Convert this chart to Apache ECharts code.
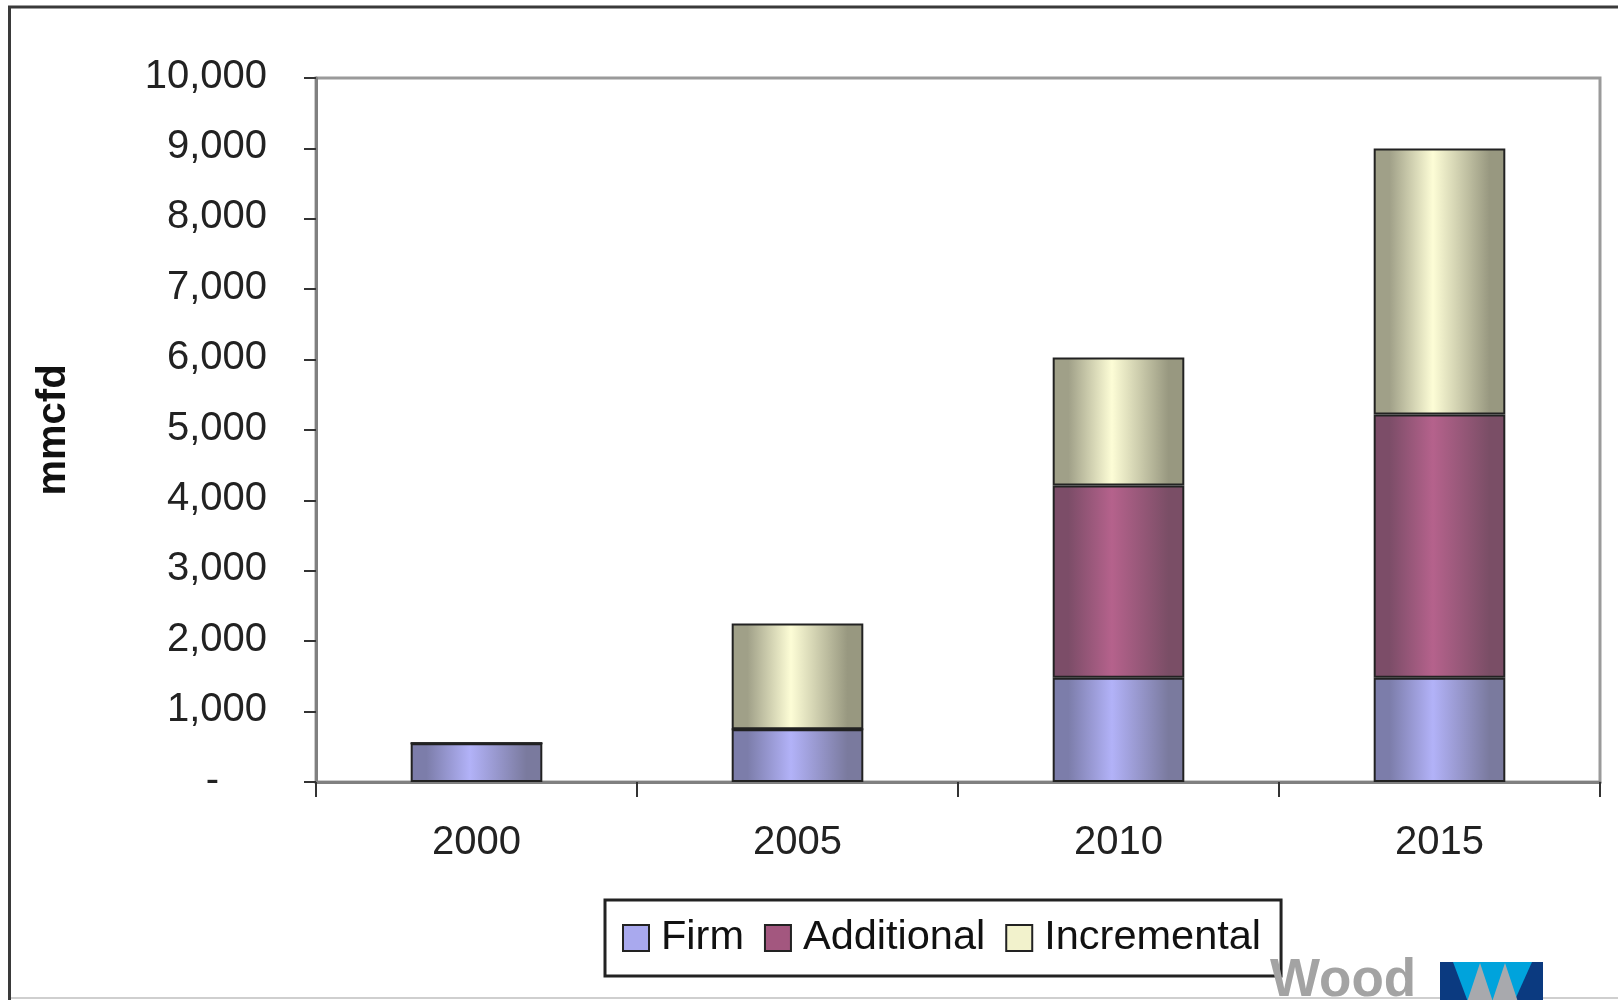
<!DOCTYPE html>
<html>
<head>
<meta charset="utf-8">
<script src="https://cdn.jsdelivr.net/npm/echarts@6/dist/echarts.min.js"></script>
<style>
html,body{margin:0;padding:0;background:#fff;}
#chart{width:1618px;height:1000px;}
</style>
</head>
<body>
<div id="chart"></div>
<script>
const categories = ['2000', '2005', '2010', '2015'];
const seriesNames = ['Firm', 'Additional', 'Incremental'];
const firm = [550, 750, 1480, 1480];
const additional = [0, 0, 2730, 3740];
const incremental = [0, 1500, 1820, 3780];
const yTickLabels = ['-', '1,000', '2,000', '3,000', '4,000', '5,000', '6,000', '7,000', '8,000', '9,000', '10,000'];
const yTitle = 'mmcfd';
const logoText = 'Wood';

const FONT = '"Liberation Sans", Arial, sans-serif';

function grad(dark, light, dark2) {
  return new echarts.graphic.LinearGradient(0, 0, 1, 0, [
    { offset: 0, color: dark },
    { offset: 0.12, color: dark },
    { offset: 0.45, color: light },
    { offset: 0.88, color: dark2 },
    { offset: 1, color: dark2 }
  ]);
}

const styles = [
  { fill: grad('#7c7daa', '#b2b2f8', '#7a7a9e'), legend: '#a9a9ee' },
  { fill: grad('#7c4d68', '#b5628c', '#7a4e66'), legend: '#a3577f' },
  { fill: grad('#a0a088', '#fdfdd6', '#989880'), legend: '#f2f2cc' }
];
const values = [firm, additional, incremental];

const chart = echarts.init(document.getElementById('chart'), null, { renderer: 'canvas' });

const option = {
  backgroundColor: '#ffffff',
  animation: false,
  grid: {
    left: 316, right: 18, top: 78, bottom: 218,
    show: true, borderColor: '#9a9a9a', borderWidth: 3, backgroundColor: 'transparent'
  },
  legend: {
    left: 605, top: 900,
    padding: [17, 20, 17, 17],
    borderColor: '#222', borderWidth: 3,
    itemWidth: 26, itemHeight: 26, itemGap: 20,
    icon: 'rect',
    textStyle: { fontFamily: FONT, fontSize: 41.5, color: '#111', lineHeight: 40, padding: [0, 0, 0, 7] },
    data: seriesNames.map((n, i) => ({
      name: n,
      itemStyle: { color: styles[i].legend, borderColor: '#222', borderWidth: 2 }
    }))
  },
  xAxis: {
    type: 'category',
    data: categories,
    axisLine: { lineStyle: { color: '#808080', width: 3 } },
    axisTick: { show: true, length: 15, lineStyle: { color: '#333', width: 2 } },
    axisLabel: { fontFamily: FONT, fontSize: 40, color: '#222', margin: 41 },
    splitLine: { show: false }
  },
  yAxis: {
    type: 'value',
    min: 0, max: 10000, interval: 1000,
    name: yTitle,
    nameLocation: 'middle',
    nameGap: 242,
    nameRotate: 90,
    nameTextStyle: { fontFamily: FONT, fontSize: 40, fontWeight: 'bold', color: '#111' },
    axisLine: { show: true, lineStyle: { color: '#808080', width: 3 } },
    axisTick: { show: true, length: 12, lineStyle: { color: '#333', width: 2 } },
    axisLabel: {
      fontFamily: FONT, fontSize: 40, color: '#222', margin: 49,
      padding: [0, 0, 3, 0],
      formatter: function (v) {
        const i = Math.round(v / 1000);
        return i === 0 ? '{z|' + yTickLabels[0] + '}' : yTickLabels[i];
      },
      rich: { z: { fontFamily: FONT, fontSize: 40, color: '#222', padding: [0, 48, 0, 0] } }
    },
    splitLine: { show: false }
  },
  series: seriesNames.map((n, i) => ({
    name: n,
    type: 'bar',
    stack: 'total',
    barWidth: '41%',
    data: values[i],
    itemStyle: { color: styles[i].fill, borderColor: '#222', borderWidth: 2 }
  })),
  graphic: [
    { type: 'line', shape: { x1: 8, y1: 7, x2: 1618, y2: 7 }, style: { stroke: '#3a3a3a', lineWidth: 3 }, z: 100 },
    { type: 'line', shape: { x1: 9.5, y1: 6, x2: 9.5, y2: 1000 }, style: { stroke: '#3a3a3a', lineWidth: 3 }, z: 100 },
    { type: 'line', shape: { x1: 11, y1: 998, x2: 1618, y2: 998 }, style: { stroke: '#cfcfcf', lineWidth: 2 }, z: 99 },
    { type: 'text', z: 101,
      style: { x: 0, y: 0, text: logoText, fill: '#a3a3a3', font: 'bold 53px ' + FONT, textVerticalAlign: 'middle' },
      position: [1270, 981] },
    { type: 'rect', shape: { x: 1440, y: 962, width: 103, height: 40 }, style: { fill: '#0b3a80' }, z: 101 },
    { type: 'polygon', shape: { points: [[1453, 962], [1532, 962], [1514, 1002], [1468, 1002]] }, style: { fill: '#00a3dc' }, z: 102 },
    { type: 'polygon', shape: { points: [[1480, 963], [1493, 1002], [1467, 1002]] }, style: { fill: '#a8a9ad' }, z: 103 },
    { type: 'polygon', shape: { points: [[1505, 963], [1518, 1002], [1492, 1002]] }, style: { fill: '#a8a9ad' }, z: 103 }
  ]
};

chart.setOption(option);
</script>
</body>
</html>
